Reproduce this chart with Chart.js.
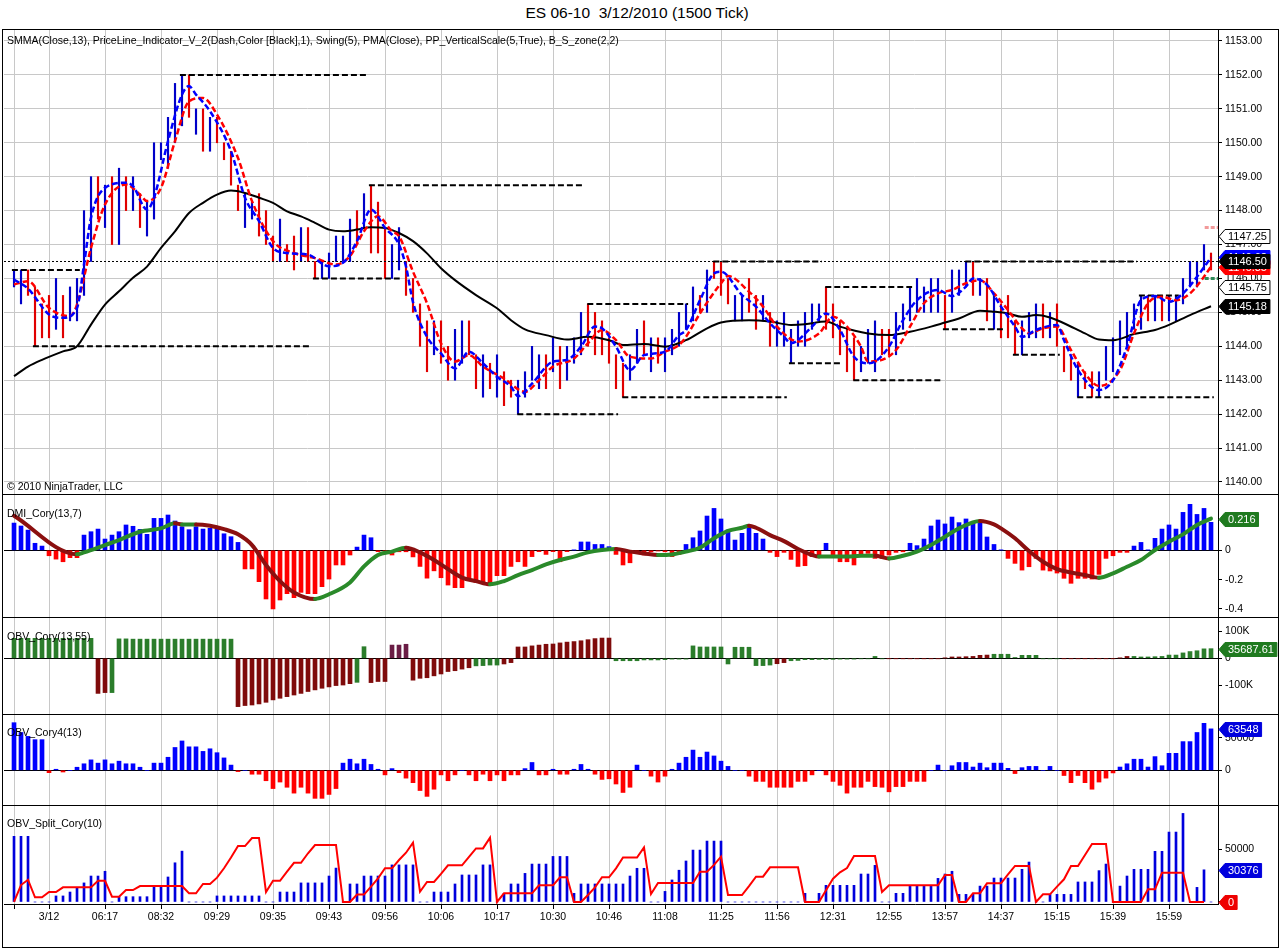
<!DOCTYPE html>
<html>
<head>
<meta charset="utf-8">
<title>ES 06-10 3/12/2010 (1500 Tick)</title>
<script src="https://cdn.jsdelivr.net/npm/chart.js@4.4.1/dist/chart.umd.min.js"></script>
<style>
  body { margin: 0; background: #fff; }
  #wrap { position: relative; width: 1280px; height: 949px; overflow: hidden; background: #fff;
          font-family: "Liberation Sans", Arial, sans-serif; color: #000; }
  #title { position: absolute; left: 0; top: 4px; width: 1274px; text-align: center; font-size: 15.5px; white-space: pre; }
  #frame { position: absolute; left: 2px; top: 29px; width: 1277px; height: 919px; border: 1px solid #000; box-sizing: border-box; }
  .sep { position: absolute; left: 2px; width: 1277px; height: 1px; background: #000; }
  canvas { position: absolute; left: 0; }
  .lbl { position: absolute; left: 7px; font-size: 10.5px; white-space: pre; z-index: 2; }
</style>
</head>
<body>
<div id="wrap">
  <div id="title">ES 06-10  3/12/2010 (1500 Tick)</div>
  <div id="frame"></div>
  <canvas id="cPrice" width="1280" height="464" style="top:30px"></canvas>
  <canvas id="cDmi" width="1280" height="122" style="top:495px"></canvas>
  <canvas id="cObv" width="1280" height="96" style="top:618px"></canvas>
  <canvas id="cObv4" width="1280" height="90" style="top:715px"></canvas>
  <canvas id="cSplit" width="1280" height="140" style="top:806px"></canvas>
  <div class="sep" style="top:494px"></div>
  <div class="sep" style="top:617px"></div>
  <div class="sep" style="top:714px"></div>
  <div class="sep" style="top:805px"></div>
  <div class="lbl" style="top:34px">SMMA(Close,13), PriceLine_Indicator_V_2(Dash,Color [Black],1), Swing(5), PMA(Close), PP_VerticalScale(5,True), B_S_zone(2,2)</div>
  <div class="lbl" style="top:480px">© 2010 NinjaTrader, LLC</div>
  <div class="lbl" style="top:507px">DMI_Cory(13,7)</div>
  <div class="lbl" style="top:630px">OBV_Cory(13,55)</div>
  <div class="lbl" style="top:726px">OBV_Cory4(13)</div>
  <div class="lbl" style="top:817px">OBV_Split_Cory(10)</div>
</div>
<script>
// x axis: one tick per labelled bar
const timeTickIdx = [0,5,13,21,29,37,45,53,61,69,77,85,93,101,109,117,125,133,141,149,157,165];
const timeLabels = ['','3/12','06:17','08:32','09:29','09:35','09:43','09:56','10:06','10:17','10:30',
  '10:46','11:08','11:25','11:56','12:31','12:55','13:57','14:37','15:15','15:39','15:59'];

// price bars (1500 tick), high / low / direction (B up, R down)
const highs = [
  1146.25,1146.25,1146.25,1145.75,1145.25,1145.5,1146,1145.5,1145.75,1146,
  1148,1149,1149,1148.75,1149,1149.25,1149,1149,1148.5,1148.25,
  1150,1150,1150.75,1151.75,1152,1152,1151,1151,1150.75,1150.75,
  1150,1149.75,1148.75,1148.5,1148.25,1148.5,1148,1147.25,1147.75,1147,
  1147.25,1147.5,1147.5,1146.5,1146.5,1146.75,1147.25,1147.25,1147.75,1148,
  1148.5,1148.75,1148.25,1147.5,1147,1147.5,1146.5,1146,1145.25,1144.75,
  1144.75,1144.75,1144,1144.5,1144.75,1144.75,1143.75,1143.75,1143.5,1143.75,
  1143.25,1143,1143,1143.25,1144,1143.75,1143.75,1144.25,1144,1144,
  1144.25,1145,1145.25,1145,1144.75,1144.25,1143.75,1143.5,1143.75,1144.5,
  1144.75,1144.25,1144.25,1144.25,1144.5,1145,1145.25,1145.75,1145.5,1146.25,
  1146.5,1146.5,1146,1145.5,1145.5,1146,1145.5,1145.5,1145,1144.75,
  1145,1144.5,1144.75,1145,1145.25,1145.25,1145.75,1145.25,1144.75,1144.5,
  1144.25,1144,1144.5,1144.75,1144.5,1144.5,1145,1145.25,1145.75,1146,
  1145.75,1146,1146,1145.5,1146.25,1146.25,1146.5,1146.5,1146,1146,
  1145.5,1145.25,1145.5,1144.75,1144.75,1145,1145.25,1145.25,1145,1145.25,
  1144,1143.75,1143.5,1143.25,1143.25,1143.25,1144,1144.25,1144.75,1145,
  1145.25,1145.5,1145.5,1145.5,1145.5,1145.5,1145.5,1146,1146.5,1146.5,
  1147,1146.75];
const lows = [
  1145.75,1145.25,1145.5,1144,1144.25,1144.25,1144.5,1144.25,1144.75,1144.75,
  1145.5,1146.5,1147.75,1147.5,1147,1147,1148,1148,1147.5,1147.25,
  1147.75,1149.5,1149.25,1150,1150.5,1150.75,1150.25,1149.75,1149.75,1150,
  1149.5,1148.75,1148,1147.5,1147.75,1147.25,1147,1146.5,1146.5,1146.5,
  1146.25,1146.5,1146.5,1146,1146,1146,1146.5,1146.5,1146.5,1147,
  1147.5,1146.75,1146.75,1146,1146,1146.25,1145.5,1145,1144,1143.25,
  1143.75,1143.5,1143,1143,1143.5,1143.75,1142.75,1142.5,1142.75,1142.5,
  1142.25,1142.5,1142,1142.5,1143,1142.75,1142.75,1143.25,1142.75,1143,
  1143.5,1143.75,1144,1143.75,1143.75,1143.5,1142.75,1142.5,1143,1143.5,
  1143.75,1143.25,1143.5,1143.25,1143.75,1144,1144.5,1144.75,1145,1145,
  1146,1145.5,1145.25,1144.75,1144.75,1145,1144.5,1144.75,1144,1144,
  1144,1143.5,1144,1144,1144.5,1144.75,1144.5,1144.25,1143.75,1143.25,
  1143,1143.25,1143.5,1143.25,1143.75,1143.75,1143.75,1144.5,1144.75,1145,
  1145,1145,1145,1144.5,1145,1145.5,1145.75,1145.5,1145.5,1144.75,
  1144.5,1144.25,1144.25,1143.75,1143.75,1144.25,1144.25,1144.25,1144.25,1144,
  1143.25,1143,1142.5,1142.75,1142.5,1142.5,1143,1143.25,1143.75,1144,
  1144.5,1144.5,1144.75,1144.75,1144.75,1144.75,1144.75,1145.25,1145.75,1145.75,
  1146.25,1146.25];
const barDir =
  'BBRRRRBRBB' + 'BBRBRBRBRB' + 'BBBBBRBRBR' + 'RRRBBRRRBR' + 'RBRRBBBBBR' +
  'BRRRBBRRRR' + 'BRRBBRRBRB' + 'RRBBBBRBRB' + 'BBRRRRRRBB' + 'RBRBBBBBRB' +
  'RRRBBRRBRB' + 'BBBBBBRRRR' + 'RBBBRRBBBB' + 'BBBRBBBRBR' + 'BRRRBBBRBR' +
  'RRBRRBBBBB' + 'BBRBRBBBBB' + 'BR';

// moving averages: [bar, value]
const blueSmma = [[0,1145.97],[2,1145.7],[5,1144.94],[7,1144.84],[9,1145.13],[10,1146.41],[11,1147.79],[13,1148.67],
  [16,1148.82],[17,1148.72],[19,1148.03],[20,1148.38],[22,1150.05],[24,1151.42],[25,1151.67],[26,1151.42],
  [28,1150.93],[31,1149.75],[33,1148.38],[35,1147.69],[37,1146.9],[39,1146.75],[42,1146.7],[45,1146.36],
  [47,1146.46],[49,1147.1],[51,1148.03],[53,1147.49],[55,1147.0],[56,1146.35],[57,1145.3],[59,1144.28],
  [61,1143.79],[63,1143.35],[65,1143.84],[67,1143.5],[69,1143.1],[71,1142.81],[72,1142.53],[74,1142.9],
  [77,1143.55],[79,1143.6],[81,1143.99],[83,1144.58],[84,1144.53],[86,1143.99],[88,1143.3],[90,1143.74],
  [93,1143.84],[95,1144.33],[96,1144.48],[98,1145.36],[100,1146.15],[101,1146.2],[104,1145.51],[106,1145.17],
  [108,1144.68],[110,1144.28],[111,1144.09],[114,1144.58],[116,1144.97],[118,1144.48],[120,1143.69],[122,1143.5],
  [123,1143.55],[125,1143.99],[127,1144.77],[129,1145.36],[132,1145.66],[134,1145.48],[136,1145.76],[137,1146.0],
  [139,1145.81],[141,1145.17],[143,1144.58],[144,1144.28],[146,1144.48],[149,1144.63],[150,1144.18],[152,1143.3],
  [155,1142.71],[157,1143.0],[159,1143.99],[161,1145.36],[163,1145.48],[165,1145.31],[167,1145.56],[169,1146.05],
  [171,1146.62]];
const redSmma = [[0,1145.82],[2,1145.92],[5,1145.13],[8,1144.89],[9,1145.23],[11,1146.9],[13,1148.18],[16,1148.77],
  [18,1148.47],[19,1148.28],[21,1148.67],[23,1150.05],[25,1151.22],[27,1151.32],[29,1150.83],[32,1149.55],
  [34,1148.28],[37,1147.1],[40,1146.75],[43,1146.6],[46,1146.41],[48,1146.66],[50,1147.39],[52,1147.83],
  [54,1147.39],[55,1147.25],[57,1146.2],[59,1145.27],[61,1144.09],[63,1143.55],[65,1143.74],[67,1143.4],
  [70,1143.05],[73,1142.66],[75,1143.0],[77,1143.4],[80,1143.64],[82,1144.09],[84,1144.48],[86,1144.18],
  [88,1143.69],[91,1143.64],[93,1143.84],[95,1144.04],[96,1144.28],[98,1144.97],[101,1145.86],[102,1146.07],
  [105,1145.61],[107,1145.17],[109,1144.58],[112,1144.14],[115,1144.38],[117,1144.87],[119,1144.58],[121,1143.99],
  [122,1143.55],[124,1143.6],[126,1143.89],[128,1144.58],[130,1145.27],[132,1145.56],[134,1145.66],[136,1145.86],
  [138,1145.95],[140,1145.56],[142,1145.07],[144,1144.53],[145,1144.38],[147,1144.53],[149,1144.58],[151,1143.89],
  [153,1143.2],[155,1142.83],[158,1143.3],[160,1144.38],[162,1145.27],[164,1145.46],[166,1145.36],[168,1145.56],
  [170,1146.05],[171,1146.35]];
const pmaLine = [[0,1143.12],[2,1143.4],[4,1143.6],[7,1143.85],[9,1144.0],[11,1144.64],[13,1145.23],[15,1145.62],
  [17,1146.02],[19,1146.35],[21,1146.9],[23,1147.39],[25,1147.93],[27,1148.23],[29,1148.47],[31,1148.59],
  [33,1148.52],[35,1148.38],[37,1148.23],[39,1147.98],[41,1147.83],[43,1147.64],[45,1147.44],[47,1147.39],
  [49,1147.44],[51,1147.51],[53,1147.49],[55,1147.34],[57,1147.1],[59,1146.74],[61,1146.3],[63,1145.95],
  [66,1145.51],[69,1145.12],[71,1144.77],[73,1144.5],[76,1144.33],[79,1144.2],[82,1144.28],[85,1144.18],
  [87,1144.04],[90,1144.07],[93,1143.99],[96,1144.18],[99,1144.53],[101,1144.7],[105,1144.77],[108,1144.73],
  [111,1144.63],[113,1144.65],[116,1144.73],[118,1144.58],[122,1144.38],[125,1144.33],[128,1144.43],[131,1144.58],
  [133,1144.7],[135,1144.82],[138,1145.05],[140,1145.02],[142,1144.97],[144,1144.87],[146,1144.92],[148,1144.85],
  [150,1144.68],[153,1144.38],[155,1144.2],[157,1144.18],[160,1144.36],[163,1144.48],[165,1144.63],[168,1144.92],
  [171,1145.18]];

// swing(5) levels and the bars they run between
const swingLevel = [1146.25,1144,1152,1146,1148.75,1142,1145.25,1142.5,1146.5,1143.5,1145.75,1143,1144.5,1146.5,1143.75,1142.5,1145.5];
const swingFrom  = [-0.3,2.7,23.7,42.7,50.7,71.9,81.9,86.9,99.9,110.7,115.9,119.9,132.7,135.9,142.7,151.9,160.7];
const swingTo    = [9.4,42.3,50.4,55.1,81.3,86.3,96.3,110.4,115.4,118.4,128.3,132.4,141.3,160.4,149.4,171.4,166.4];

const lastPrice = 1146.50;
const zoneSell = 1147.5, zoneBuy = 1146.0, zoneFrom = 170.1;
const zoneHigh = 1147.25, zoneLow = 1145.75;
const priceTicks = [1140,1141,1142,1143,1144,1145,1146,1147,1148,1149,1150,1151,1152,1153];

// DMI_Cory(13,7)
const dmiHist = [
  .186,.166,.138,.048,.029,-.037,-.06,-.078,-.05,-.05,
  .104,.127,.145,.077,.104,.127,.173,.164,.143,.109,
  .218,.218,.241,.2,.161,.141,.161,.145,.15,.145,
  .113,.093,.054,-.127,-.127,-.214,-.332,-.4,-.339,-.296,
  -.323,-.287,-.296,-.296,-.248,-.196,-.1,-.1,-.032,.022,
  .104,.086,-.009,-.005,-.032,-.01,-.01,-.045,-.11,-.19,
  -.14,-.187,-.237,-.255,-.255,-.191,-.219,-.219,-.237,-.173,
  -.173,-.11,-.078,-.11,-.043,-.009,-.028,-.009,-.078,-.009,
  .002,.057,.057,.04,.04,.025,-.028,-.1,-.085,-.009,
  -.032,-.01,-.005,-.01,-.043,-.028,.04,.086,.132,.234,
  .286,.214,.139,.07,.116,.168,.116,.077,-.014,-.043,
  -.014,-.062,-.11,-.105,-.043,-.032,.048,-.032,-.078,-.078,
  -.1,-.043,-.021,-.055,-.055,-.032,-.014,-.01,.048,.032,
  .077,.166,.207,.18,.227,.189,.214,.184,.195,.091,
  .04,.002,-.055,-.089,-.135,-.112,-.055,-.135,-.141,-.155,
  -.191,-.225,-.191,-.191,-.196,-.164,-.055,-.037,-.014,-.014,
  .029,.054,.002,.082,.145,.173,.145,.259,.314,.245,
  .286,.191];
const dmiLine = [[0,.236],[9,-.027],[10,-.014],[13,.036],[15,.07],[18,.127],[21,.15],[23,.184],[24,.177],[26,.177],
  [28,.168],[30,.145],[32,.109],[34,.036],[36,-.1],[38,-.21],[40,-.287],[43,-.332],[45,-.3],[48,-.219],[50,-.11],
  [52,-.032],[54,-.009],[56,.018],[58,-.014],[60,-.066],[62,-.128],[64,-.186],[66,-.21],[68,-.232],[70,-.21],
  [72,-.169],[74,-.135],[76,-.096],[78,-.066],[80,-.043],[82,-.014],[84,.002],[86,.009],[88,-.009],[90,-.021],
  [92,-.032],[94,-.028],[96,-.009],[98,.018],[100,.082],[102,.132],[104,.154],[105,.168],[106,.154],[108,.104],
  [110,.063],[112,.009],[114,-.032],[115,-.043],[117,-.043],[119,-.043],[121,-.037],[123,-.037],[125,-.055],
  [127,-.037],[129,-.009],[131,.036],[133,.093],[135,.15],[138,.2],[140,.177],[141,.15],[143,.082],[145,-.005],
  [147,-.078],[149,-.128],[151,-.151],[153,-.169],[155,-.187],[157,-.157],[159,-.112],[161,-.066],[163,.002],
  [165,.059],[167,.109],[169,.173],[171,.216]];
const dmiTicks = [0,-0.2,-0.4];

// OBV_Cory(13,55) and its state (G rising, R falling, M mixed)
const obvCory = [
  74000,74000,74000,74000,74000,74000,74000,74000,74000,74000,
  74000,74000,-130000,-127000,-127000,72000,72000,71000,71000,71000,
  71000,71000,71000,71000,71000,71000,71000,71000,71000,71000,
  71000,71000,-179000,-175000,-173000,-169000,-163000,-154000,-148000,-142000,
  -136000,-130000,-123000,-117000,-111000,-106000,-101000,-99000,-94000,-89000,
  43000,-90000,-86000,-86000,49000,49000,52000,-81000,-74000,-72000,
  -65000,-58000,-49000,-46000,-40000,-35000,-28000,-27000,-25000,-25000,
  -21000,-16000,42000,42000,46000,49000,52000,53000,57000,60000,
  62000,65000,69000,73000,75000,75000,-9000,-9000,-9000,-9000,
  -6000,-6000,-6000,-5000,-3000,-3000,-3000,46000,42000,42000,
  42000,42000,-21000,41000,41000,41000,-27000,-27000,-25000,-20000,
  -16000,-9000,-8000,-5000,-5000,-4000,-4000,-4000,-3000,-3000,
  -3000,-2000,-2000,7000,-2000,-1000,-1000,-1000,-1000,-1000,
  -1000,-1000,-1000,1000,5000,5000,6000,7000,11000,12000,
  15000,15000,15000,3000,11000,11000,11000,-2000,-2000,-2000,
  -1000,-1000,-1000,-1000,-1000,-1000,-1000,-1000,1000,7000,
  7000,5000,5000,6000,7000,12000,12000,20000,25000,28000,
  35000,35687.61];
const obvState =
  'GGGGGGGGGG' + 'GGRRGGGGGG' + 'GGGGGGGGGG' + 'GGRRRRRRRR' + 'RRRRRRRRRG' +
  'GRRRMMMRRR' + 'RRRRRRGGGG' + 'RRRRRRRRRR' + 'RRRRRRGGGG' + 'GGGGGGGGGG' +
  'GGGGGGGGGR' + 'RGGGGGGGGG' + 'GGGGGRRRRR' + 'RRRRRRRRRR' + 'GGGGGGGGGG' +
  'RRRRRRRRRR' + 'GGGGGGGGGG' + 'GG';
const obvTicks = [100000,0,-100000];

// OBV_Cory4(13)
const obvCory4 = [
  73000,58000,52000,47000,47000,-3600,1600,-2600,0,4700,
  10000,16000,11000,16000,10000,14000,10000,10000,4700,0,
  11000,11000,20000,35000,45000,36000,36000,29000,33000,27000,
  19000,8000,-2000,0,-6000,-6000,-16000,-28000,-18000,-26000,
  -35000,-26000,-35000,-43000,-43000,-37000,-28000,11000,17000,10000,
  17000,9000,1600,-7000,2600,-3600,-12000,-19000,-31000,-40000,
  -29000,-7000,-16000,-7000,0,-7000,-16000,-6000,-16000,-7000,
  -16000,-7000,-7000,2600,12000,-7000,-7000,1600,-6000,-6000,
  1600,9000,1600,-6000,-14000,-13000,-21000,-34000,-26000,8000,
  0,-9000,-18000,-9000,1600,11000,20000,31000,20000,28000,
  22000,14000,6000,0,0,-9000,-17000,-17000,-26000,-26000,
  -26000,-26000,-17000,-17000,-7000,0,-7000,-17000,-23000,-35000,
  -26000,-26000,-17000,-25000,-26000,-33000,-25000,-25000,-17000,-17000,
  -17000,0,8000,0,7000,12000,12000,5000,11000,4000,
  11000,11000,3000,-5000,4000,6000,6000,0,6000,0,
  -8000,-19000,-8000,-19000,-29000,-18000,-12000,-4000,5000,10000,
  17000,17000,5000,21000,7000,26000,26000,44000,44000,58000,
  72000,63548];
const obv4Ticks = [50000,0];

// OBV_Split_Cory(10): volume bars and red line
const splitVol = [
  62000,62000,62000,0,0,0,5700,5700,9400,13800,
  18000,24500,24500,29000,0,5000,5000,5000,5000,5000,
  15000,15000,23600,37000,48000,0,0,0,0,5700,
  5700,5700,5700,5700,5700,5700,0,0,9400,9400,
  9400,18000,18000,18000,18000,24500,32000,0,17000,17000,
  24500,24500,24500,24500,35000,35000,35000,35000,0,0,
  9400,9400,9400,17000,25500,25500,25500,35000,35000,0,
  8200,17000,17000,27000,35800,35800,35800,43000,43000,43000,
  8200,17000,17000,17000,17000,17000,17000,17000,24500,31800,
  31800,0,0,10000,20800,30000,38700,49000,49000,57500,
  57500,57500,0,0,0,0,0,0,0,0,
  0,0,0,8200,0,8200,15700,15700,15700,15700,
  15700,26400,26400,34600,0,0,8200,8200,15700,15700,
  15700,15700,22300,26400,29000,7200,7200,7200,15000,15000,
  22600,22600,22600,22600,30800,37700,0,0,7200,7200,
  7200,7200,18900,18900,18900,29600,35800,0,15000,24500,
  30800,30800,30800,47800,47800,66000,66000,83600,0,13800,
  30376,0];
const splitLine = [
  0,16000,21000,4400,4400,9400,9400,13800,13800,13800,
  13800,13800,20000,20000,5000,5000,11300,11300,15000,15000,
  15000,15000,15000,15000,15000,8200,8200,17000,17000,23000,
  31800,42000,52800,52800,60400,60400,9400,20000,20000,28600,
  37000,37000,46000,53800,53800,53800,53800,0,0,7000,
  7000,14500,22300,31800,31800,39600,46500,56000,9700,18900,
  18900,26500,34600,34600,34600,42500,50600,50600,60700,0,
  8200,8200,8200,8200,8200,15700,15700,15700,23300,23300,
  0,0,6600,13800,23300,23300,31800,42000,42000,42000,
  51600,7500,18000,18000,18000,18000,18000,18000,28600,28600,
  35000,42800,6600,6600,6600,15000,23900,23900,32700,32700,
  32700,32700,32700,0,0,0,11000,22000,28000,32000,
  43400,43400,43400,43400,9400,15700,15700,15700,15700,15700,
  15700,15700,15700,25500,25500,0,0,8200,8200,17600,
  17600,17600,26000,34000,34000,34000,0,7200,7200,14500,
  21400,34000,34000,44300,54700,54700,54700,0,0,0,
  0,0,12000,12000,27700,27700,27700,27700,0,0,
  0,null];
const splitTicks = [50000,0];

// ---------------------------------------------------------------
const FONT = '"Liberation Sans", Arial, sans-serif';
Chart.defaults.font.family = FONT;
Chart.defaults.font.size = 10.5;
Chart.defaults.color = '#000';
Chart.defaults.animation = false;
Chart.defaults.plugins.legend.display = false;
Chart.defaults.plugins.tooltip.enabled = false;
Chart.defaults.elements.point.radius = 0;

const GRID = '#c8c8c8';
const X_MIN = -1.43, X_MAX = 172;
const pts = arr => arr.map(([x, y]) => ({ x, y }));
const perBar = arr => arr.map((y, i) => ({ x: i, y }));

function xAxis(bottom) {
  return {
    type: 'linear', min: X_MIN, max: X_MAX, offset: false,
    grid: { color: GRID, offset: false, drawTicks: bottom, tickLength: 5, tickColor: '#000' },
    border: { display: bottom, color: '#000' },
    ticks: {
      display: bottom, autoSkip: false, maxRotation: 0, padding: 2,
      callback: v => { const k = timeTickIdx.indexOf(v); return k < 0 ? null : timeLabels[k]; }
    },
    afterBuildTicks: s => { s.ticks = timeTickIdx.map(v => ({ value: v })); },
    afterFit: s => { s.height = bottom ? 42 : 0; s.paddingLeft = 0; s.paddingRight = 0; }
  };
}

function yAxis(min, max, ticks, fmt, gridColor) {
  return {
    type: 'linear', position: 'right', min, max,
    grid: { color: gridColor, drawTicks: true, tickLength: 4, tickColor: '#000' },
    border: { display: true, color: '#000' },
    ticks: { padding: 3, callback: fmt },
    afterBuildTicks: s => { s.ticks = ticks.map(v => ({ value: v })); },
    afterFit: s => { s.width = 62; s.paddingTop = 0; s.paddingBottom = 0; }
  };
}

const zeroOnly = c => (c.tick && c.tick.value === 0) ? '#000' : 'rgba(0,0,0,0)';

// last-value flags on the price axis
function flags(items) {
  return {
    id: 'flags',
    afterDraw(chart) {
      const ys = chart.scales.y, ctx = chart.ctx, x0 = chart.chartArea.right;
      ctx.save();
      ctx.font = '11px ' + FONT;
      ctx.textBaseline = 'middle';
      items.forEach(f => {
        const y = Math.round(ys.getPixelForValue(f.v)) + 0.5;
        const w = ctx.measureText(f.text).width + 6;
        ctx.beginPath();
        ctx.moveTo(x0 + 1, y);
        ctx.lineTo(x0 + 7, y - 7);
        ctx.lineTo(x0 + 7 + w, y - 7);
        ctx.lineTo(x0 + 7 + w, y + 7);
        ctx.lineTo(x0 + 7, y + 7);
        ctx.closePath();
        ctx.fillStyle = f.bg; ctx.fill();
        ctx.strokeStyle = f.edge || f.bg; ctx.lineWidth = 1; ctx.stroke();
        ctx.fillStyle = f.fg;
        ctx.fillText(f.text, x0 + 10, y + 0.5);
      });
      ctx.restore();
    }
  };
}

const baseOpts = { responsive: false, maintainAspectRatio: false, layout: { padding: { left: 4, right: 0, top: 0, bottom: 0 } } };

// ---- price panel
const swingSets = swingLevel.map((lv, k) => ({
  type: 'line', data: [{ x: swingFrom[k], y: lv }, { x: swingTo[k], y: lv }],
  borderColor: '#000', borderWidth: 2, borderDash: [6, 3], order: 3
}));
const lastBlue = blueSmma[blueSmma.length - 1][1];
const lastRed = redSmma[redSmma.length - 1][1];
const lastPma = pmaLine[pmaLine.length - 1][1];

new Chart(document.getElementById('cPrice'), {
  type: 'bar',
  data: {
    datasets: [
      { type: 'bar', data: highs.map((h, i) => ({ x: i, y: [lows[i], h] })),
        backgroundColor: highs.map((_, i) => barDir[i] === 'B' ? '#0000c8' : '#e00000'),
        barThickness: 1.5, borderWidth: 0, order: 6 },
      { type: 'line', data: pts(pmaLine), borderColor: '#000', borderWidth: 2,
        cubicInterpolationMode: 'monotone', order: 5 },
      { type: 'line', data: [{ x: X_MIN, y: lastPrice }, { x: X_MAX, y: lastPrice }],
        borderColor: '#000', borderWidth: 1, borderDash: [2, 2], order: 4 },
      ...swingSets,
      { type: 'line', data: pts(redSmma), borderColor: '#ff0000', borderWidth: 2.5, borderDash: [6, 3],
        cubicInterpolationMode: 'monotone', order: 2 },
      { type: 'line', data: pts(blueSmma), borderColor: '#0000ff', borderWidth: 2.5, borderDash: [6, 3],
        cubicInterpolationMode: 'monotone', order: 1 },
      { type: 'line', data: [{ x: zoneFrom, y: zoneSell }, { x: X_MAX, y: zoneSell }],
        borderColor: '#f29a9a', borderWidth: 3, borderDash: [4, 2], order: 1 },
      { type: 'line', data: [{ x: zoneFrom, y: zoneBuy }, { x: X_MAX, y: zoneBuy }],
        borderColor: '#2e8b57', borderWidth: 3, borderDash: [4, 2], order: 1 }
    ]
  },
  options: {
    ...baseOpts,
    scales: {
      x: xAxis(false),
      y: yAxis(1139.646, 1153.324, priceTicks, v => v.toFixed(2), GRID)
    }
  },
  plugins: [flags([
    { v: lastBlue, text: lastBlue.toFixed(2), bg: '#0000ff', fg: '#fff' },
    { v: lastRed, text: lastRed.toFixed(2), bg: '#ff0000', fg: '#fff' },
    { v: zoneHigh, text: zoneHigh.toFixed(2), bg: '#fff', fg: '#000', edge: '#000' },
    { v: zoneLow, text: zoneLow.toFixed(2), bg: '#fff', fg: '#000', edge: '#000' },
    { v: lastPrice, text: lastPrice.toFixed(2), bg: '#000', fg: '#fff' },
    { v: lastPma, text: lastPma.toFixed(2), bg: '#000', fg: '#fff' }
  ])]
});

// ---- DMI panel
new Chart(document.getElementById('cDmi'), {
  type: 'bar',
  data: {
    datasets: [
      { type: 'bar', data: perBar(dmiHist), backgroundColor: dmiHist.map(v => v >= 0 ? '#0000ff' : '#ff0000'),
        barThickness: 4, borderWidth: 0, order: 2 },
      { type: 'line', data: pts(dmiLine), borderWidth: 4, borderColor: '#2a8a2a',
        cubicInterpolationMode: 'monotone', borderCapStyle: 'round',
        segment: { borderColor: c => c.p1.parsed.y >= c.p0.parsed.y ? '#2a8a2a' : '#8b1010' }, order: 1 }
    ]
  },
  options: {
    ...baseOpts,
    scales: {
      x: xAxis(false),
      y: yAxis(-0.455, 0.3775, dmiTicks, v => v === 0 ? '0' : v.toFixed(1), zeroOnly)
    }
  },
  plugins: [flags([{ v: dmiLine[dmiLine.length - 1][1], text: dmiLine[dmiLine.length - 1][1].toFixed(3), bg: '#1f7a1f', fg: '#fff' }])]
});

// ---- OBV_Cory panel
const obvColors = { G: '#2b7d2b', R: '#7f0b0b', M: '#6a1d45' };
const obvLast = obvCory[obvCory.length - 1];
new Chart(document.getElementById('cObv'), {
  type: 'bar',
  data: {
    datasets: [
      { type: 'bar', data: perBar(obvCory), backgroundColor: obvCory.map((_, i) => obvColors[obvState[i]]),
        barThickness: 4, borderWidth: 0 }
    ]
  },
  options: {
    ...baseOpts,
    scales: {
      x: xAxis(false),
      y: yAxis(-206300, 149300, obvTicks, v => v === 0 ? '0' : (v / 1000) + 'K', zeroOnly)
    }
  },
  plugins: [flags([{ v: obvLast, text: obvLast.toFixed(2), bg: '#1f7a1f', fg: '#fff' }])]
});

// ---- OBV_Cory4 panel
const obv4Last = obvCory4[obvCory4.length - 1];
new Chart(document.getElementById('cObv4'), {
  type: 'bar',
  data: {
    datasets: [
      { type: 'bar', data: perBar(obvCory4), backgroundColor: obvCory4.map(v => v >= 0 ? '#0000ff' : '#ff0000'),
        barThickness: 4, borderWidth: 0 }
    ]
  },
  options: {
    ...baseOpts,
    scales: {
      x: xAxis(false),
      y: yAxis(-53200, 84800, obv4Ticks, v => String(v), zeroOnly)
    }
  },
  plugins: [flags([{ v: obv4Last, text: String(obv4Last), bg: '#0000dd', fg: '#fff' }])]
});

// ---- OBV_Split panel
const splitLastVol = splitVol[170];
new Chart(document.getElementById('cSplit'), {
  type: 'bar',
  data: {
    datasets: [
      { type: 'bar', data: perBar(splitVol), backgroundColor: '#0000dd', barThickness: 2, borderWidth: 0, order: 2 },
      { type: 'line', data: perBar(splitLine), borderColor: '#ff0000', borderWidth: 2, tension: 0, order: 1 }
    ]
  },
  options: {
    ...baseOpts,
    scales: {
      x: xAxis(true),
      y: yAxis(-1900, 90600, splitTicks, v => String(v), 'rgba(0,0,0,0)')
    }
  },
  plugins: [flags([
    { v: splitLastVol, text: String(splitLastVol), bg: '#0000dd', fg: '#fff' },
    { v: splitLine[170], text: String(splitLine[170]), bg: '#ee0000', fg: '#fff' }
  ])]
});
</script>
</body>
</html>
